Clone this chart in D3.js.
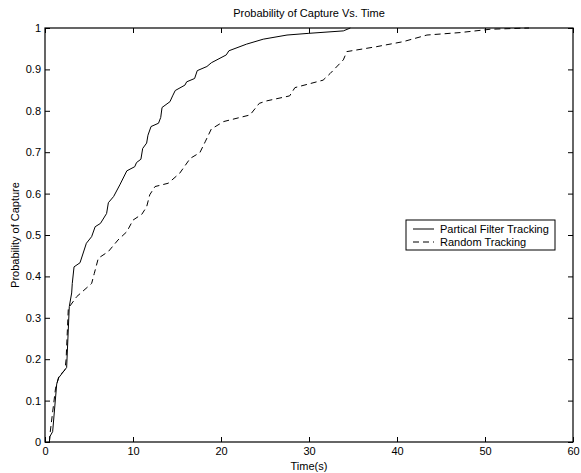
<!DOCTYPE html>
<html>
<head>
<meta charset="utf-8">
<script src="https://cdn.jsdelivr.net/npm/d3@7"></script>
<style>
  body { margin: 0; background: #fff; }
  svg text { font-family: "Liberation Sans", Arial, Helvetica, sans-serif; font-size: 11px; fill: #000; }
</style>
</head>
<body>
<div id="chart"></div>
<script>
/* -----------------------
data
------------------------- */

var pfTime = [0.5, 0.55, 0.87, 1.33, 1.55, 2.46, 2.76, 3.03, 3.1, 3.3, 3.98, 4.7, 5.3, 5.7, 6.3, 7.0, 7.2, 7.8, 8.5, 9.3,
	10.2, 10.4, 10.9, 11.1, 11.55, 11.7, 12.05, 12.9, 13.15, 13.3, 14.2, 14.5, 14.8, 15.9, 16.1, 17.0, 17.3, 18.4, 18.9,
	20.6, 20.9, 22.9, 24.8, 27.5, 29.9, 33.9, 34.7];
var pfProb = [0, 0.013, 0.025, 0.14, 0.155, 0.18, 0.327, 0.36, 0.383, 0.423, 0.433, 0.48, 0.496, 0.52, 0.528, 0.552, 0.578, 0.593, 0.621, 0.655,
	0.665, 0.675, 0.683, 0.709, 0.722, 0.741, 0.762, 0.77, 0.784, 0.808, 0.822, 0.836, 0.849, 0.862, 0.87, 0.878, 0.897, 0.907, 0.916,
	0.935, 0.945, 0.961, 0.973, 0.983, 0.987, 0.993, 1.0];

var rndTime = [0.5, 0.57, 1.2, 1.6, 2.27, 2.4, 2.65, 3.6, 5.3, 5.6, 6.06, 7.2, 8.3, 9.3, 10.0, 11.0, 11.55, 11.9, 12.5, 14.0,
	15.3, 16.5, 17.6, 18.2, 18.9, 20.3, 23.3, 24.35, 25.2, 27.8, 28.4, 31.6, 32.4, 33.9, 34.3, 37.7, 40.7, 43.4, 47.2, 50.6, 55];
var rndProb = [0, 0.02, 0.13, 0.16, 0.174, 0.2, 0.323, 0.351, 0.383, 0.407, 0.444, 0.46, 0.488, 0.508, 0.536, 0.55, 0.568, 0.597, 0.617, 0.625,
	0.649, 0.685, 0.699, 0.725, 0.756, 0.774, 0.79, 0.818, 0.824, 0.836, 0.856, 0.874, 0.89, 0.923, 0.943, 0.955, 0.967, 0.983, 0.989, 0.997, 1.0];

var xTicks = [0, 10, 20, 30, 40, 50, 60];
var yTicks = [0, 0.1, 0.2, 0.3, 0.4, 0.5, 0.6, 0.7, 0.8, 0.9, 1];
var seriesNames = ["Partical Filter Tracking", "Random Tracking"];

/* -----------------------
main variables
------------------------- */

var width = 581;
var height = 473;
var margin = {top: 28, right: 8, bottom: 31, left: 45};
var tick = 5;

var svg = d3.select("#chart")
	.append("svg")
	.attr("width", width)
	.attr("height", height);

var x = d3.scaleLinear().domain([0, 60]).range([margin.left, width - margin.right]);
var y = d3.scaleLinear().domain([0, 1]).range([height - margin.bottom, margin.top]);

/* -----------------------
axes (matlab style box, ticks inside)
------------------------- */

svg.append("g")
	.attr("transform", "translate(0," + y(0) + ")")
	.call(d3.axisBottom(x).tickValues(xTicks).tickSize(-tick).tickPadding(5).tickFormat(d3.format("d")));
svg.append("g")
	.attr("transform", "translate(0," + y(1) + ")")
	.call(d3.axisTop(x).tickValues(xTicks).tickSize(-tick).tickFormat(""));
svg.append("g")
	.attr("transform", "translate(" + x(0) + ",0)")
	.call(d3.axisLeft(y).tickValues(yTicks).tickSize(-tick).tickPadding(4).tickFormat(function(d){ return d3.format("")(+d.toFixed(1)); }));
svg.append("g")
	.attr("transform", "translate(" + x(60) + ",0)")
	.call(d3.axisRight(y).tickValues(yTicks).tickSize(-tick).tickFormat(""));

svg.selectAll(".domain").remove();
svg.selectAll(".tick line").attr("stroke", "#000");
svg.selectAll(".tick text").attr("fill", "#000").style("font-size", "11px");

svg.append("rect")
	.attr("x", x(0))
	.attr("y", y(1))
	.attr("width", x(60) - x(0))
	.attr("height", y(0) - y(1))
	.attr("fill", "none")
	.attr("stroke", "#000")
	.attr("stroke-width", 1.2);

/* -----------------------
lines
------------------------- */

var line = d3.line()
	.x(function(d){ return x(d[0]); })
	.y(function(d){ return y(d[1]); });

var pfData = d3.zip(pfTime, pfProb);
var rndData = d3.zip(rndTime, rndProb);

svg.append("path")
	.datum(pfData)
	.attr("d", line)
	.attr("fill", "none")
	.attr("stroke", "#000")
	.attr("stroke-width", 1);

svg.append("path")
	.datum(rndData)
	.attr("d", line)
	.attr("fill", "none")
	.attr("stroke", "#000")
	.attr("stroke-width", 1)
	.attr("stroke-dasharray", "6,4");

/* -----------------------
text
------------------------- */

svg.append("text")
	.attr("x", (x(0) + x(60)) / 2)
	.attr("y", 17)
	.attr("text-anchor", "middle")
	.text("Probability of Capture Vs. Time");

svg.append("text")
	.attr("x", (x(0) + x(60)) / 2)
	.attr("y", 470)
	.attr("text-anchor", "middle")
	.text("Time(s)");

svg.append("text")
	.attr("transform", "translate(19," + ((y(0) + y(1)) / 2) + ") rotate(-90)")
	.attr("text-anchor", "middle")
	.text("Probability of Capture");

/* -----------------------
legend
------------------------- */

var legend = svg.append("g").attr("transform", "translate(406,220)");

legend.append("rect")
	.attr("width", 149)
	.attr("height", 30)
	.attr("fill", "#fff")
	.attr("stroke", "#000")
	.attr("stroke-width", 1);

seriesNames.forEach(function(name, i){
	legend.append("line")
		.attr("x1", 7)
		.attr("x2", 28)
		.attr("y1", 9 + i * 13)
		.attr("y2", 9 + i * 13)
		.attr("stroke", "#000")
		.attr("stroke-dasharray", i == 1 ? "6,4" : null);
	legend.append("text")
		.attr("x", 34)
		.attr("y", 13 + i * 13)
		.text(name);
});
</script>
</body>
</html>
